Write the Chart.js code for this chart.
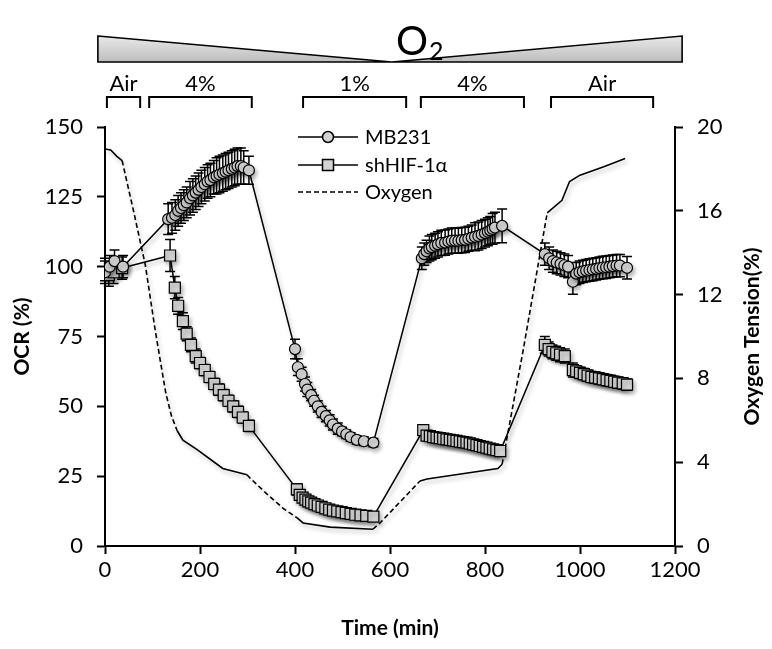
<!DOCTYPE html>
<html><head><meta charset="utf-8">
<script src="https://cdn.jsdelivr.net/npm/chart.js@4.4.0/dist/chart.umd.min.js"></script>
<style>html,body{margin:0;padding:0;background:#fff;}#wrap{width:772px;height:649px;position:relative;}</style>
</head><body><div id="wrap"><canvas id="c" width="772" height="649"></canvas></div>
<script>
// ---------- data ----------
const xTickValues = [0, 200, 400, 600, 800, 1000, 1200];
const ocrTickValues = [0, 25, 50, 75, 100, 125, 150];
const o2TickValues = [0, 4, 8, 12, 16, 20];

const seriesNames = ['MB231', 'shHIF-1\u03b1', 'Oxygen'];

const mb231Time = [0,10,20,38,
  133,141,148,154,160,166,172,179,185,191,197,203,210,216,222,229,235,241,248,254,260,267,273,279,286,292,303,
  400,406,414,421,426,434,440,448,456,465,473,480,490,499,508,517,530,545,565,
  667,672,677,683,688,695,701,708,716,723,730,737,744,751,758,765,772,779,786,793,800,806,811,816,821,836,
  926,935,943,951,959,967,975,985,992,999,1006,1013,1020,1027,1034,1041,1048,1055,1062,1069,1077,1084,1099];
const mb231Ocr = [98,100,102,100,
  117,117.5,118.5,120,121,122,123,124.5,125.5,126.5,127.5,128.5,129.5,130.5,131,132,132.5,133,133.5,134,134.5,135,135.5,136,136,135.5,134.5,
  70.5,64,61.5,58,56,54,52,50,48,46.5,45,43.5,42,41,40,39,38,37.5,37,
  103,104.5,105.5,106.5,107,107.5,108,108.5,108.6,109,109.3,109.3,109.3,109.5,109.6,110,110.4,110.7,111,111.5,112,112.5,113,113.5,114,114.6,
  104.5,103,102,101.5,101,100.5,100,94.6,97.5,98,98.3,98.6,98.8,99,99.2,99.5,99.7,99.8,100,100.2,100.4,100.4,99.6];
const mb231Err = [4,4,4,4,
  5.5,5.5,5.5,5.5,5.5,5.5,5.5,6,6,6,6,6,6,6,6,6,6.5,6.5,6.5,6.5,6.5,6.5,6.5,6.5,6.5,6,5,
  3.5,3,2.5,2.5,2.5,2,2,2,2,2,2,2,2,1.5,1.5,1.5,1.5,1.5,1.5,
  4,4,4,4.5,4.5,4.5,4.5,4.5,4.5,4.5,4.5,4.5,4.5,4.5,4.5,4.5,4.5,5,5,5,5,5,5,5.5,5.5,6,
  4,4,4,4,4,4,4,4.5,4,4,4,4,4,4,4,4,4,4,4,4,4,4,4];

const shhifTime = [0,8,18,36,
  137,147,154,164,172,181,191,200,210,220,230,240,250,260,270,280,290,303,
  404,410,416,422,428,434,441,448,456,464,472,480,489,498,507,517,527,538,550,565,
  670,677,684,691,698,705,712,719,726,733,740,747,754,761,768,775,782,789,796,803,810,817,824,832,
  926,934,942,950,958,968,985,992,1000,1008,1016,1024,1032,1040,1048,1056,1064,1072,1080,1090,1099];
const shhifOcr = [99,97,98,99.5,
  104,92.5,86,80.5,76,72,68,65.5,63,60.5,58,56,54,52,50,48,46,43,
  20.3,18.3,17.3,16.6,16,15.5,15,14.5,14,13.5,13,12.7,12.4,12.1,11.8,11.5,11.2,11,10.8,10.5,
  41.5,39.5,39.3,39,38.8,38.6,38.4,38.2,38,37.8,37.6,37.4,37.2,37,36.7,36.4,36.1,35.8,35.5,35.2,34.9,34.6,34.3,34,
  72,70.5,69.5,69,68.5,68,63,62.5,62,61.5,61,60.5,60.3,60,59.7,59.4,59.1,58.8,58.5,58.2,57.8];
const shhifErr = [4,4,4,4,
  5.7,4,3,3,2.5,2.5,2.5,2,2,2,2,2,2,2,2,2,2,2,
  2,1.5,1.5,1.5,1.5,1.5,1.5,1.5,1.5,1.5,1.5,1.5,1.5,1.5,1.5,1.5,1.5,1.5,1.5,1.5,
  1.5,1.5,1.5,1.5,1.5,1.5,1.5,1.5,1.5,1.5,1.5,1.5,1.5,1.5,1.5,1.5,1.5,1.5,1.5,1.5,1.5,1.5,1.5,1.5,
  3,2.5,2.5,2.5,2.5,2.5,2.5,2,2,2,2,2,2,2,2,2,2,2,2,2,2];

const o2Time = [0,12,25,36,60,85,105,116,128,140,152,164,194,248,299,305,340,375,404,417,474,564,579,621,663,678,827,836,880,931,962,978,1000,1050,1095];
const o2Tension = [18.95,18.9,18.6,18.4,16,13.4,10.4,8.9,7.3,6.2,5.5,5.05,4.6,3.7,3.4,3.25,2.5,1.8,1.35,1.1,0.9,0.8,1.1,2.1,3.1,3.2,3.7,3.9,9.3,15.9,16.5,17.4,17.7,18.1,18.5];
// time windows where the O2 set-point was ramping (drawn dashed)
const o2RampStart = [36, 299, 564, 836];
const o2RampEnd = [152, 404, 663, 931];

// gas phases shown on top brackets
const phaseLabels = ['Air', '4%', '1%', '4%', 'Air'];
const phaseStart = [4, 93, 417, 665, 939];
const phaseEnd = [74, 309, 634, 882, 1154];

// ---------- chart ----------
const FONT = 'Lato, "Open Sans", "DejaVu Sans", sans-serif';
const toXY = (xs, ys) => xs.map((x, i) => ({x: x, y: ys[i]}));
const inRamp = (a, b) => o2RampStart.some((s, i) => a >= s && b <= o2RampEnd[i]);

const errorBars = {
  id: 'errorBars',
  beforeDatasetsDraw(chart) {
    const ctx = chart.ctx;
    chart.data.datasets.forEach((ds, di) => {
      if (!ds.errors) return;
      const meta = chart.getDatasetMeta(di);
      const ys = chart.scales[meta.yAxisID];
      ctx.save();
      ctx.strokeStyle = '#000';
      ctx.lineWidth = 1.5;
      meta.data.forEach((pt, i) => {
        const v = ds.data[i].y, e = ds.errors[i];
        const yt = ys.getPixelForValue(v + e), yb = ys.getPixelForValue(v - e);
        ctx.beginPath();
        ctx.moveTo(pt.x, yt); ctx.lineTo(pt.x, yb);
        ctx.moveTo(pt.x - 5, yt); ctx.lineTo(pt.x + 5, yt);
        ctx.moveTo(pt.x - 5, yb); ctx.lineTo(pt.x + 5, yb);
        ctx.stroke();
      });
      ctx.restore();
    });
  }
};

const shadows = {
  id: 'shadows',
  beforeDatasetDraw(chart) {
    const ctx = chart.ctx;
    ctx.save();
    ctx.shadowColor = 'rgba(0,0,0,0.28)';
    ctx.shadowBlur = 4;
    ctx.shadowOffsetX = 2;
    ctx.shadowOffsetY = 3;
  },
  afterDatasetDraw(chart) { chart.ctx.restore(); }
};

const decorations = {
  id: 'decorations',
  afterDraw(chart) {
    const ctx = chart.ctx;
    const xs = chart.scales.x;
    const ca = chart.chartArea;
    ctx.save();
    ctx.fillStyle = '#000';
    ctx.strokeStyle = '#000';

    // O2 wedge
    const wl = xs.getPixelForValue(-15), wr = xs.getPixelForValue(1215), wm = xs.getPixelForValue(604);
    const wTop = 36, wBot = 62;
    const g = ctx.createLinearGradient(0, wTop, 0, wBot);
    g.addColorStop(0, '#e9e9e9'); g.addColorStop(1, '#bdbdbd');
    ctx.beginPath();
    ctx.moveTo(wl, wTop); ctx.lineTo(wm, wBot); ctx.lineTo(wr, wTop); ctx.lineTo(wr, wBot); ctx.lineTo(wl, wBot); ctx.closePath();
    ctx.fillStyle = g; ctx.fill();
    ctx.lineWidth = 1.6; ctx.stroke();
    ctx.fillStyle = '#000';

    // O2 label
    ctx.textBaseline = 'alphabetic';
    ctx.textAlign = 'left';
    ctx.font = '40px ' + FONT;
    const ow = ctx.measureText('O').width;
    const ox = 396;
    ctx.fillText('O', ox, 55);
    ctx.font = '25px ' + FONT;
    ctx.fillText('2', ox + ow + 1, 60);

    // phase brackets
    ctx.lineWidth = 2;
    ctx.font = '22px ' + FONT;
    ctx.textAlign = 'center';
    ctx.textBaseline = 'middle';
    phaseLabels.forEach((lab, i) => {
      const a = xs.getPixelForValue(phaseStart[i]), b = xs.getPixelForValue(phaseEnd[i]);
      ctx.beginPath();
      ctx.moveTo(a, 108); ctx.lineTo(a, 97); ctx.lineTo(b, 97); ctx.lineTo(b, 108);
      ctx.stroke();
      ctx.fillText(lab, (a + b) / 2, 84);
    });

    // axis titles
    ctx.font = 'bold 21px ' + FONT;
    const cy = (ca.top + ca.bottom) / 2;
    ctx.save(); ctx.translate(22, cy); ctx.rotate(-Math.PI / 2); ctx.fillText('OCR (%)', 0, 0); ctx.restore();
    ctx.save(); ctx.translate(752, cy); ctx.rotate(-Math.PI / 2); ctx.fillText('Oxygen Tension(%)', 0, 0); ctx.restore();
    ctx.fillText('Time (min)', (ca.left + ca.right) / 2, 628);

    // legend
    const lx0 = 298, lx1 = 358, mx = 328, tx = 365;
    const rows = [137, 165, 192];
    ctx.textAlign = 'left';
    ctx.font = '20px ' + FONT;
    chart.data.datasets.forEach((ds, i) => {
      const y = rows[i];
      ctx.save();
      ctx.strokeStyle = '#000';
      ctx.lineWidth = 1.5;
      if (i === 2) ctx.setLineDash([5, 3]);
      ctx.beginPath(); ctx.moveTo(lx0, y); ctx.lineTo(lx1, y); ctx.stroke();
      ctx.setLineDash([]);
      ctx.fillStyle = '#d3d3d3';
      if (ds.pointStyle === 'circle') {
        ctx.beginPath(); ctx.arc(mx, y, 5.5, 0, Math.PI * 2); ctx.fill(); ctx.stroke();
      } else if (ds.pointStyle === 'rect') {
        ctx.beginPath(); ctx.rect(mx - 5.5, y - 5.5, 11, 11); ctx.fill(); ctx.stroke();
      }
      ctx.restore();
      ctx.fillText(ds.label, tx, y + 1);
    });
    ctx.restore();
  }
};

const axisCommon = {
  grid: {drawOnChartArea: false, drawTicks: true, tickLength: 8, tickWidth: 2, tickColor: '#000'},
  border: {display: true, color: '#000', width: 2},
};
const plainLabel = v => String(v);

new Chart(document.getElementById('c'), {
  type: 'line',
  data: {
    datasets: [
      {label: seriesNames[0], data: toXY(mb231Time, mb231Ocr), errors: mb231Err, yAxisID: 'y',
       borderColor: '#000', borderWidth: 1.5, pointStyle: 'circle', pointRadius: 5.5,
       pointBackgroundColor: '#d3d3d3', pointBorderColor: '#000', pointBorderWidth: 1.2, order: 1},
      {label: seriesNames[1], data: toXY(shhifTime, shhifOcr), errors: shhifErr, yAxisID: 'y',
       borderColor: '#000', borderWidth: 1.5, pointStyle: 'rect', pointRadius: 7.8,
       pointBackgroundColor: '#d3d3d3', pointBorderColor: '#000', pointBorderWidth: 1.2, order: 2},
      {label: seriesNames[2], data: toXY(o2Time, o2Tension), yAxisID: 'y2',
       borderColor: '#000', borderWidth: 1.6, pointRadius: 0, order: 3,
       segment: {borderDash: c => inRamp(c.p0.parsed.x, c.p1.parsed.x) ? [5, 3] : undefined}}
    ]
  },
  options: {
    responsive: false, animation: false, events: [],
    layout: {padding: {top: 127, left: 0, right: 0, bottom: 0}},
    elements: {line: {tension: 0}},
    scales: {
      x: Object.assign({type: 'linear', position: 'bottom', min: 0, max: 1200,
        afterFit(s) { s.height = 103; },
        afterBuildTicks(s) { s.ticks = xTickValues.map(v => ({value: v})); },
        ticks: {font: {family: FONT, size: 22}, color: '#000', padding: 3, maxRotation: 0, autoSkip: false, callback: plainLabel}}, axisCommon),
      y: Object.assign({type: 'linear', position: 'left', min: 0, max: 150,
        afterFit(s) { s.width = 105; },
        afterBuildTicks(s) { s.ticks = ocrTickValues.map(v => ({value: v})); },
        ticks: {font: {family: FONT, size: 22}, color: '#000', padding: 14, autoSkip: false, callback: plainLabel}}, axisCommon),
      y2: Object.assign({type: 'linear', position: 'right', min: 0, max: 20,
        afterFit(s) { s.width = 97; },
        afterBuildTicks(s) { s.ticks = o2TickValues.map(v => ({value: v})); },
        ticks: {font: {family: FONT, size: 22}, color: '#000', padding: 14, autoSkip: false, callback: plainLabel}}, axisCommon)
    },
    plugins: {legend: {display: false}, tooltip: {enabled: false}}
  },
  plugins: [errorBars, shadows, decorations]
});
</script></body></html>
